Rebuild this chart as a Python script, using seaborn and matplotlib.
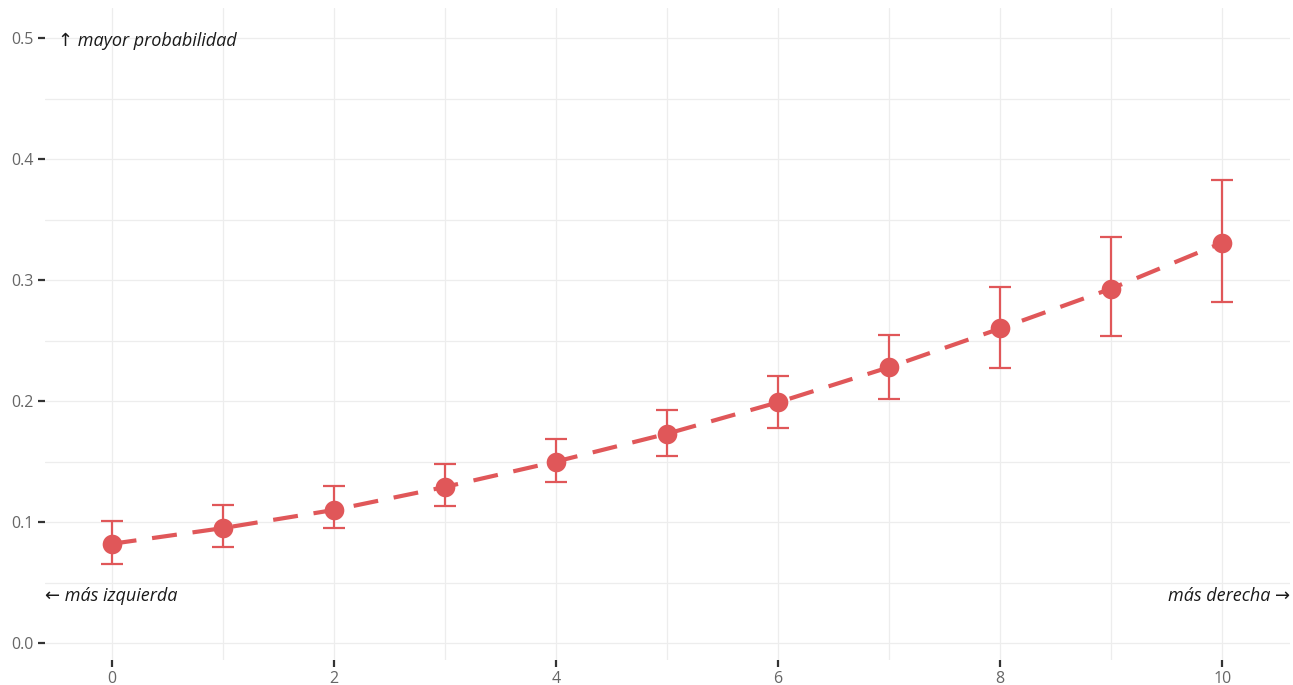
import numpy as np
import pandas as pd
import matplotlib
matplotlib.use("Agg")
import matplotlib.pyplot as plt
import seaborn as sns
from matplotlib.ticker import MultipleLocator

# Data
x_vals = [0, 1, 2, 3, 4, 5, 6, 7, 8, 9, 10]
prob = [0.082, 0.095, 0.110, 0.129, 0.150, 0.173, 0.199, 0.228, 0.260, 0.293, 0.331]
lower = [0.065, 0.079, 0.095, 0.113, 0.133, 0.155, 0.178, 0.202, 0.227, 0.254, 0.282]
upper = [0.101, 0.114, 0.130, 0.148, 0.169, 0.193, 0.221, 0.255, 0.294, 0.336, 0.383]

RED = "#E05759"

sns.set_theme(style="white")
plt.rcParams["font.family"] = ["Open Sans", "DejaVu Sans"]

df = pd.DataFrame({"x": x_vals, "p": prob, "lo": lower, "hi": upper})

fig = plt.figure(figsize=(12.93, 6.85), dpi=100)
ax = fig.add_axes([0.0348, 0.0365, 0.963, 0.952])

# error bars
ax.errorbar(df["x"], df["p"],
            yerr=[df["p"] - df["lo"], df["hi"] - df["p"]],
            fmt="none", ecolor=RED, elinewidth=1.6, capsize=8, capthick=1.6, zorder=3)

sns.lineplot(data=df, x="x", y="p", color=RED, linewidth=3.0, ax=ax,
             dashes=False, zorder=2)
ax.lines[-1].set_dashes([6, 3.8])
sns.scatterplot(data=df, x="x", y="p", color=RED, s=200, edgecolor=RED,
                linewidth=0, ax=ax, zorder=4)

ax.set_xlim(-0.6, 10.61)
ax.set_ylim(-0.014, 0.525)
ax.xaxis.set_major_locator(MultipleLocator(2))
ax.xaxis.set_minor_locator(MultipleLocator(1))
ax.yaxis.set_major_locator(MultipleLocator(0.1))
ax.yaxis.set_minor_locator(MultipleLocator(0.05))
ax.set_yticklabels([f"{t:.1f}" for t in ax.get_yticks()])

ax.grid(which="both", color="#EDEDED", linewidth=0.9)
ax.set_axisbelow(True)
for s in ax.spines.values():
    s.set_visible(False)

ax.tick_params(axis="both", which="major", left=True, bottom=True, length=5,
               width=1.6, color="#333333", labelcolor="#666666", labelsize=11.5, pad=3)
ax.tick_params(axis="both", which="minor", length=0)
ax.set_xlabel("")
ax.set_ylabel("")

ax.text(-0.48, 0.4975, "↑ mayor probabilidad", style="italic", fontsize=13,
        color="#1a1a1a", ha="left", va="center")
ax.text(-0.6, 0.0388, "← más izquierda", style="italic", fontsize=13,
        color="#1a1a1a", ha="left", va="center")
ax.text(10.61, 0.0388, "más derecha →", style="italic", fontsize=13,
        color="#1a1a1a", ha="right", va="center")

fig.savefig("out.png", dpi=100)
